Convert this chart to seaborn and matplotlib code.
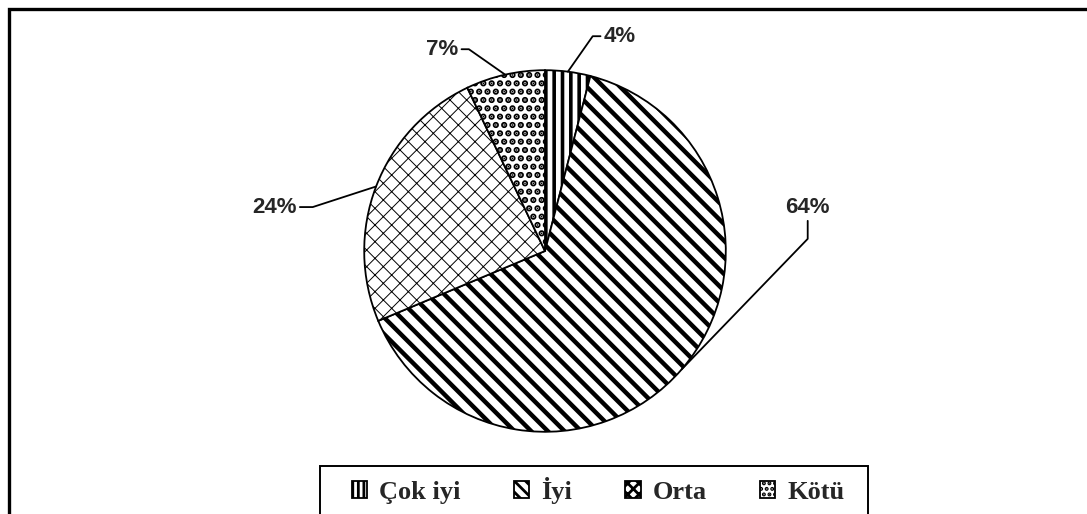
import matplotlib as mpl
mpl.use('Agg')
import matplotlib.pyplot as plt
import numpy as np
import seaborn as sns
from matplotlib.patches import Rectangle

# data (percent)
labels = ['Çok iyi', 'İyi', 'Orta', 'Kötü']
values = [4, 64, 24, 7]
hatches = ['||', '\\\\', 'xx', '..']
hatch_lw = [2.6, 3.2, 0.7, 3.2]

# label layout (pie radius units), and leader angles
label_pos = [(0.414, 1.188), (1.453, 0.243), (-1.497, 0.243), (-0.569, 1.116)]
leader_angles = [(0, 55), (90, 46), (0, 18), (0, -35)]

sns.set_theme(style='white')
plt.rcParams['hatch.linewidth'] = 1.0

fig = plt.figure(figsize=(10.87, 5.14), dpi=100)
ax = fig.add_axes([319 / 1087, 37 / 514, 452 / 1087, 452 / 514])

wedges, _ = ax.pie(values, startangle=90, counterclock=False,
                   colors=['white'] * 4,
                   wedgeprops=dict(edgecolor='black', linewidth=1.3))
for w, h, lw in zip(wedges, hatches, hatch_lw):
    w.set_hatch(h)
    if hasattr(w, 'set_hatch_linewidth'):
        w.set_hatch_linewidth(lw)
ax.set_xlim(-1.25, 1.25)
ax.set_ylim(-1.25, 1.25)
ax.set_aspect('equal')

for w, v, pos, (a, b) in zip(wedges, values, label_pos, leader_angles):
    mid = np.deg2rad((w.theta1 + w.theta2) / 2)
    xy = (np.cos(mid), np.sin(mid))
    ax.annotate(f'{v}%', xy=xy, xytext=pos,
                ha='center', va='center', fontsize=16, fontweight='bold',
                family='Liberation Sans', annotation_clip=False,
                arrowprops=dict(arrowstyle='-', color='black', lw=1.3,
                                shrinkA=0, shrinkB=0,
                                connectionstyle=f'angle,angleA={a},angleB={b},rad=0'))

leg = fig.legend(wedges, labels, loc='center', bbox_to_anchor=(598 / 1087, 1 - 490 / 514),
                 ncol=4, frameon=False, handlelength=0.6, handleheight=0.6,
                 handletextpad=0.45, columnspacing=2.0,
                 prop=dict(family='Liberation Serif', weight='bold', size=19))
for hnd, h in zip(leg.legend_handles, ['|||', '\\\\\\', 'xxx', '...']):
    hnd.set_hatch(h)
    if hasattr(hnd, 'set_hatch_linewidth'):
        hnd.set_hatch_linewidth(2.0)

# outer chart border and legend box (cropped by the image edges)
fig.add_artist(Rectangle((8.5 / 1087, -0.1), 1.2, 1 - 8.5 / 514 + 0.1,
                         transform=fig.transFigure, fill=False,
                         edgecolor='black', linewidth=2.4, clip_on=False))
fig.add_artist(Rectangle((320 / 1087, -0.1), 548 / 1087, 1 - 466 / 514 + 0.1,
                         transform=fig.transFigure, fill=False,
                         edgecolor='black', linewidth=1.4, clip_on=False))

fig.savefig('out.png', dpi=100)
